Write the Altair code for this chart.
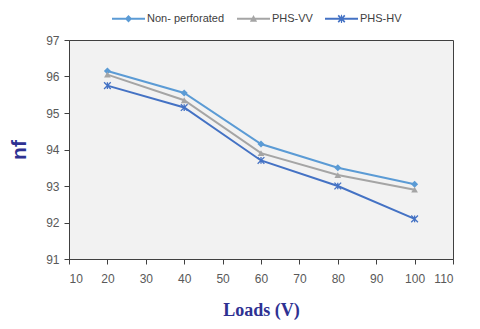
import altair as alt
import pandas as pd

loads = [20, 40, 60, 80, 100]
series_names = ["Non- perforated", "PHS-VV", "PHS-HV"]
non_perforated = [96.15, 95.55, 94.15, 93.5, 93.05]
phs_vv = [96.05, 95.35, 93.9, 93.3, 92.9]
phs_hv = [95.75, 95.15, 93.7, 93.0, 92.1]
colors = ["#5b9bd5", "#a5a5a5", "#4472c4"]

rows = []
for name, vals in zip(series_names, [non_perforated, phs_vv, phs_hv]):
    for x, y in zip(loads, vals):
        rows.append({"load": x, "nf": y, "series": name})
df = pd.DataFrame(rows)

color_scale = alt.Scale(domain=series_names, range=colors)

# legend symbol paths (line + marker), all clockwise for fill
line_p = "M-1,-0.06L1,-0.06L1,0.06L-1,0.06Z"
diamond_p = "M0,-0.22L0.22,0L0,0.22L-0.22,0Z"
tri_p = "M0,-0.22L0.22,0.18L-0.22,0.18Z"
ast_p = ("M-0.165,-0.235L0.235,0.165L0.165,0.235L-0.235,-0.165Z"
         "M0.165,-0.235L0.235,-0.165L-0.165,0.235L-0.235,0.165Z"
         "M-0.035,-0.25L0.035,-0.25L0.035,0.25L-0.035,0.25Z")
legend_shapes = [line_p + diamond_p, line_p + tri_p, line_p + ast_p]

x_enc = alt.X("load:Q", scale=alt.Scale(domain=[10, 110], nice=False),
              axis=alt.Axis(values=list(range(10, 111, 10)), tickCount=11,
                            labelOverlap=False, labelPadding=9,
                            title="Loads (V)",
                            titleFont="Liberation Serif", titleFontSize=18,
                            titleFontWeight="bold", titleColor="#2e3192",
                            titlePadding=17))
y_enc = alt.Y("nf:Q", scale=alt.Scale(domain=[91, 97], nice=False, zero=False),
              axis=alt.Axis(values=list(range(91, 98)), tickCount=7,
                            labelOverlap=False, labelPadding=5,
                            title="nf",
                            titleFont="Liberation Sans", titleFontSize=21,
                            titleFontWeight="bold", titleColor="#2e3192",
                            titlePadding=16))

base = alt.Chart(df)

leg = alt.Legend(title=None, orient="none", legendX=43, legendY=-38,
                 direction="horizontal",
                 symbolSize=1089, symbolOpacity=1,
                 symbolStrokeWidth=0, labelFontSize=11,
                 labelFont="Liberation Sans", labelColor="#404040",
                 labelOffset=2, columnPadding=12, padding=0)

# legend-bearing layer first so its legend settings win the layer merge
legend_layer = base.mark_point(filled=True, opacity=0).encode(
    x=x_enc, y=y_enc,
    color=alt.Color("series:N", scale=color_scale, legend=leg),
    shape=alt.Shape("series:N", scale=alt.Scale(domain=series_names, range=legend_shapes),
                    legend=leg),
)

lines = base.mark_line(strokeWidth=2).encode(
    x=x_enc, y=y_enc,
    color=alt.Color("series:N", scale=color_scale, legend=None),
)

pts_np = base.transform_filter(alt.datum.series == series_names[0]).mark_point(
    shape="diamond", filled=True, size=50, opacity=1).encode(
    x="load:Q", y="nf:Q", color=alt.Color("series:N", scale=color_scale, legend=None))
pts_vv = base.transform_filter(alt.datum.series == series_names[1]).mark_point(
    shape="triangle-up", filled=True, size=45, opacity=1).encode(
    x="load:Q", y="nf:Q", color=alt.Color("series:N", scale=color_scale, legend=None))
pts_hv = base.transform_filter(alt.datum.series == series_names[2]).mark_point(
    shape="M-1,-1L1,1M-1,1L1,-1M0,-1L0,1", filled=False, size=45, strokeWidth=1.3,
    opacity=1).encode(
    x="load:Q", y="nf:Q", color=alt.Color("series:N", scale=color_scale, legend=None))

chart = alt.layer(legend_layer, lines, pts_np, pts_vv, pts_hv).properties(
    width=384, height=219,
    autosize=alt.AutoSizeParams(type="none"),
    padding={"left": 61, "top": 32, "right": 19, "bottom": 62},
    background="white",
).configure_view(
    fill="#f2f2f2", stroke="#404040", strokeWidth=1
).configure_axis(
    grid=False, domainColor="#404040", tickColor="#404040", tickSize=5,
    labelColor="#595959", labelFontSize=12, labelFont="Liberation Sans",
)

chart.save("out.html", embed_options={"renderer": "svg", "actions": False})
